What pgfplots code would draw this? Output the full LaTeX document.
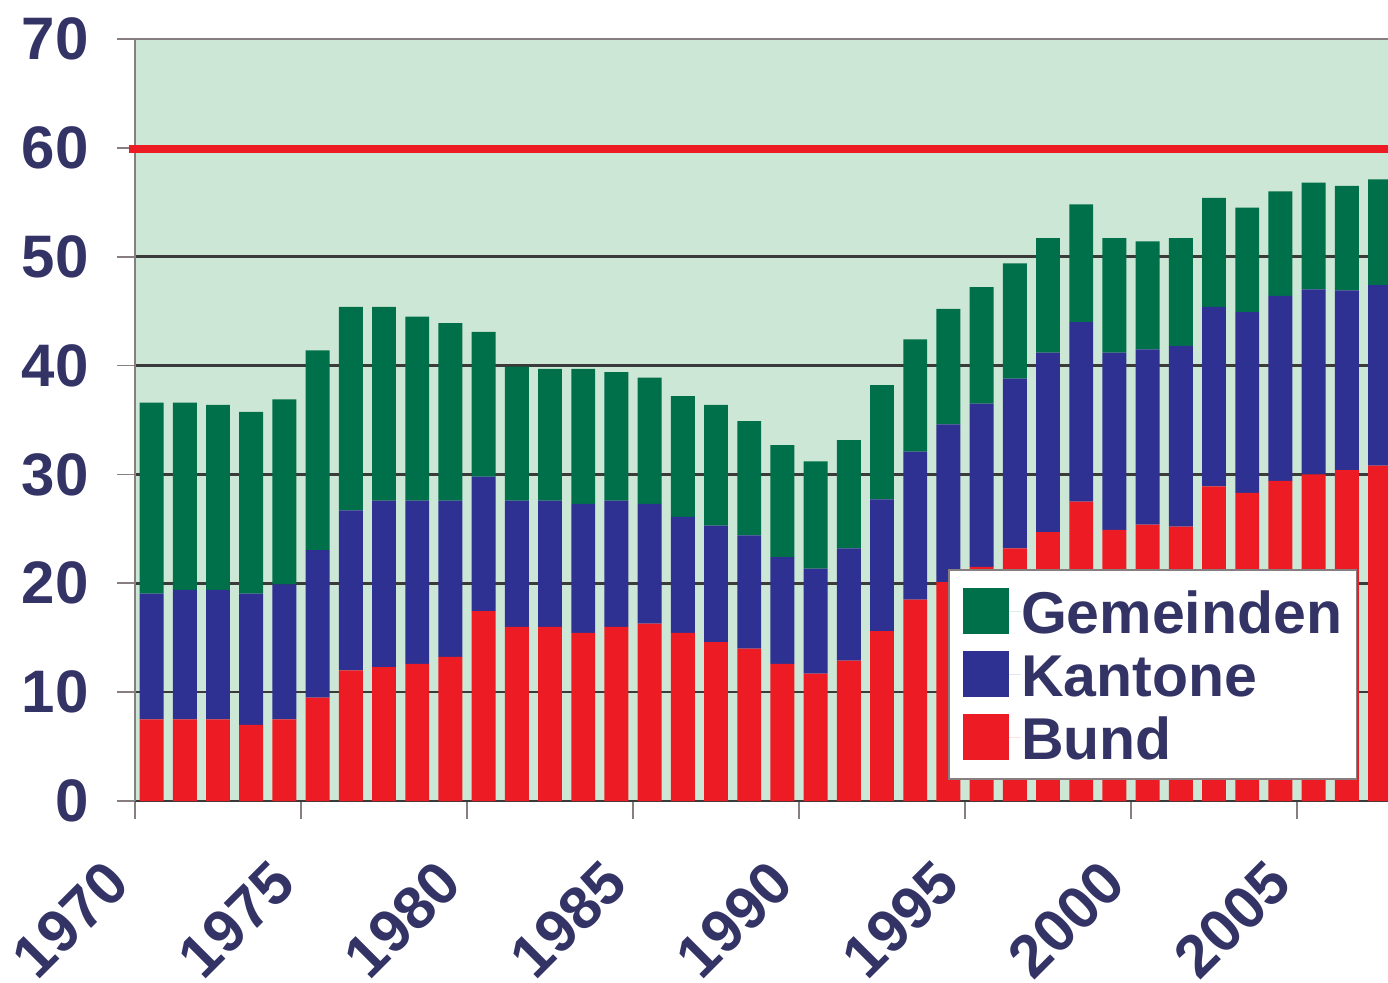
\documentclass[border=0pt]{standalone}
\usepackage{pgfplots}
\pgfplotsset{compat=1.18}
\usepackage{pgfplotstable}
\usepackage{fontspec}
\setmainfont{Liberation Sans}
\definecolor{cgreen}{RGB}{0,112,74}
\definecolor{cblue}{RGB}{46,49,146}
\definecolor{cred}{RGB}{237,28,36}
\definecolor{cbg}{RGB}{205,231,214}
\definecolor{ctext}{RGB}{51,51,102}
\definecolor{cgrid}{RGB}{58,58,58}
\definecolor{caxis}{RGB}{135,127,127}

\pgfplotstableread{
year bund kantone gemeinden
1970 7.5  11.55 17.55
1971 7.5  11.9  17.2
1972 7.5  11.9  17.0
1973 7.0  12.05 16.7
1974 7.5  12.4  17.0
1975 9.5  13.55 18.35
1976 12.0 14.7  18.7
1977 12.3 15.3  17.8
1978 12.6 15.0  16.9
1979 13.25 14.35 16.3
1980 17.45 12.35 13.3
1981 16.0 11.6  12.3
1982 16.0 11.6  12.1
1983 15.45 11.85 12.4
1984 16.0 11.6  11.8
1985 16.3 11.0  11.6
1986 15.45 10.65 11.1
1987 14.6 10.7  11.1
1988 14.0 10.4  10.5
1989 12.6 9.8   10.3
1990 11.7 9.65  9.85
1991 12.9 10.3  9.95
1992 15.6 12.1  10.5
1993 18.5 13.6  10.3
1994 20.1 14.5  10.6
1995 21.5 15.0  10.7
1996 23.2 15.6  10.6
1997 24.7 16.5  10.5
1998 27.5 16.5  10.8
1999 24.9 16.3  10.5
2000 25.4 16.1  9.9
2001 25.2 16.6  9.9
2002 28.9 16.5  10.0
2003 28.3 16.6  9.6
2004 29.4 17.0  9.6
2005 30.0 17.0  9.8
2006 30.4 16.5  9.6
2007 30.8 16.6  9.7
}\data

\begin{document}
\begin{tikzpicture}
\begin{axis}[
  scale only axis, width=626.5pt, height=381pt,
  xmin=1970, xmax=2007.74, ymin=0, ymax=70,
  ybar stacked, bar width=0.72,
  clip=false,
  axis background/.style={fill=cbg},
  axis line style={draw=none},
  ymajorgrids, grid style={cgrid, line width=1.3pt},
  tick align=outside, major tick length=9pt,
  tick style={caxis, line width=0.8pt},
  xtick pos=bottom, ytick pos=left,
  xtick={1970,1975,1980,1985,1990,1995,2000,2005},
  xticklabels={1970,1975,1980,1985,1990,1995,2000,2005},
  ytick={0,10,20,30,40,50,60,70},
  yticklabels={0,10,20,30,40,50,60,70},
  ticklabel style={font=\bfseries\fontsize{30}{30}\selectfont, text=ctext, inner sep=0pt},
  yticklabel style={anchor=east, xshift=-14pt},
  xticklabel style={yshift=-26.5pt, xshift=-8.5pt, rotate=45, anchor=east},
  reverse legend,
  legend cell align=left,
  legend style={at={(0.649,0.3045)}, anchor=north west, draw=caxis, line width=0.8pt,
    fill=white, font=\bfseries\fontsize{29.5}{30}\selectfont, text=ctext,
    inner xsep=7pt, inner ysep=5pt, row sep=0pt,
    nodes={inner ysep=4.75pt, inner xsep=0pt, text height=22pt, text depth=0pt}},
]
\addplot[fill=cred, draw=none, legend image code/.code={\path (0pt,0pt) -- (29pt,0pt); \fill[cred] (0pt,-11.5pt) rectangle (23pt,11.5pt);}]
  table[x expr=\thisrow{year}+0.5, y=bund] {\data};
\addplot[fill=cblue, draw=none, legend image code/.code={\path (0pt,0pt) -- (29pt,0pt); \fill[cblue] (0pt,-11.5pt) rectangle (23pt,11.5pt);}]
  table[x expr=\thisrow{year}+0.5, y=kantone] {\data};
\addplot[fill=cgreen, draw=none, legend image code/.code={\path (0pt,0pt) -- (29pt,0pt); \fill[cgreen] (0pt,-11.5pt) rectangle (23pt,11.5pt);}]
  table[x expr=\thisrow{year}+0.5, y=gemeinden] {\data};
\legend{Bund,Kantone,Gemeinden}
\draw[cred, line width=4pt] (axis cs:1969.82,59.85) -- (axis cs:2008.5,59.85);
\draw[caxis, line width=1.2pt] (rel axis cs:0,0) -- (rel axis cs:0,1) -- (rel axis cs:1.05,1);
\draw[cgrid, line width=1pt] (rel axis cs:0,0) -- (rel axis cs:1.05,0);
\end{axis}
\pgfresetboundingbox
\useasboundingbox (-67.5pt,-90.5pt) rectangle (626.5pt,400.5pt);
\end{tikzpicture}
\end{document}
